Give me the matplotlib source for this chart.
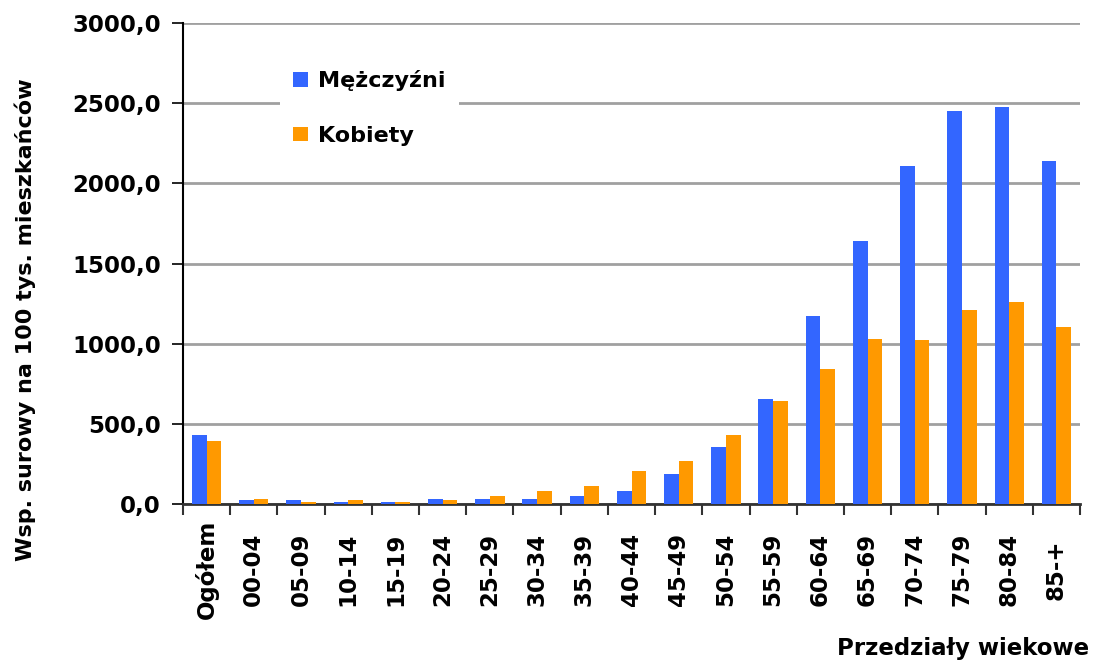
import matplotlib
matplotlib.use("Agg")
import matplotlib.pyplot as plt
import numpy as np

categories = ["Ogółem", "00-04", "05-09", "10-14", "15-19", "20-24", "25-29", "30-34",
              "35-39", "40-44", "45-49", "50-54", "55-59", "60-64", "65-69", "70-74",
              "75-79", "80-84", "85-+"]
men = [433, 22, 22, 15, 15, 34, 34, 34, 53, 84, 184, 358, 652, 1170, 1643, 2111, 2454, 2473, 2142]
women = [390, 34, 15, 22, 15, 22, 53, 84, 115, 203, 271, 433, 640, 839, 1027, 1020, 1207, 1257, 1101]
yticks = [0, 500, 1000, 1500, 2000, 2500, 3000]
ytick_labels = ["0,0", "500,0", "1000,0", "1500,0", "2000,0", "2500,0", "3000,0"]

plt.rcParams['font.family'] = ['DejaVu Sans']
fig = plt.figure(figsize=(10.93, 6.6), dpi=100)
ax = fig.add_axes([183/1093, 1 - 504/660, (1080-183)/1093, (504-23)/660])

x = np.arange(len(categories))
w = 0.31
ax.bar(x - w/2, men, width=w, color="#3366FF", label="Mężczyźni", zorder=3)
ax.bar(x + w/2, women, width=w, color="#FF9900", label="Kobiety", zorder=3)

ax.set_xlim(-0.5, len(categories) - 0.5)
ax.set_ylim(0, 3000)
ax.set_yticks(yticks)
ax.set_yticklabels(ytick_labels, fontsize=16.5, fontweight="bold")
ax.yaxis.grid(True, color="#a0a0a0", linewidth=2, zorder=0)

ax.set_xticks(np.arange(len(categories) + 1) - 0.5)
ax.set_xticklabels([])
ax.set_xticks(x, minor=True)
ax.set_xticklabels(categories, minor=True, rotation=90, fontsize=16.5, fontweight="bold",
                   va="center")
ax.tick_params(axis="x", which="minor", length=0, pad=47)
ax.tick_params(axis="x", which="major", length=8, width=1.5, color="#333333")
ax.tick_params(axis="y", length=8, width=1.2, pad=8)

for s in ["top", "right"]:
    ax.spines[s].set_visible(False)
ax.spines["left"].set_linewidth(1.5)
ax.spines["bottom"].set_linewidth(2)
ax.spines["bottom"].set_color("#333333")

fig.text(25/1093, 1 - 320/660, "Wsp. surowy na 100 tys. mieszkańców", rotation=90,
         ha="center", va="center", fontsize=16, fontweight="bold")
fig.text(1089/1093, 1 - 649/660, "Przedziały wiekowe", ha="right", va="center",
         fontsize=16.5, fontweight="bold")

leg = ax.legend(loc="upper left", bbox_to_anchor=(86/897, 1 - 23/481), frameon=True,
                prop={"size": 16, "weight": "bold"}, handlelength=0.65, handleheight=0.65,
                labelspacing=1.55, borderpad=0.6, handletextpad=0.45)
leg.get_frame().set_edgecolor("none")
leg.get_frame().set_facecolor("white")
leg.get_frame().set_alpha(1)

fig.savefig("out.png", dpi=100)
